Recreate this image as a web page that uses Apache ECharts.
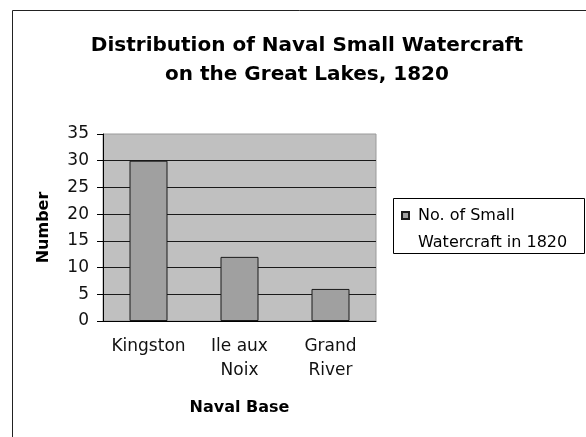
<!DOCTYPE html>
<html>
<head>
<meta charset="utf-8">
<script src="https://cdn.jsdelivr.net/npm/echarts@6/dist/echarts.min.js"></script>
<style>
  html, body { margin: 0; padding: 0; background: #fff; }
  #chart { width: 586px; height: 437px; }
</style>
</head>
<body>
<div id="chart"></div>
<script>
// data
const categories = ['Kingston', 'Ile aux\nNoix', 'Grand\nRiver']
const boats = [30, 12, 6]
const seriesName = 'No. of Small\nWatercraft in 1820'
const yTicks = { min: 0, max: 35, interval: 5 }

const labelFont = 'DejaVu Sans'

const myChart = echarts.init(document.getElementById('chart'))

const option = {
  animation: false,
  backgroundColor: '#fff',
  title: {
    text: 'Distribution of Naval Small Watercraft\non the Great Lakes, 1820',
    left: 302,
    top: 26,
    textAlign: 'center',
    textStyle: {
      fontFamily: labelFont,
      fontWeight: 'bold',
      fontSize: 20,
      lineHeight: 29,
      color: '#000'
    }
  },
  // outer frame + legend box
  graphic: [
    {
      type: 'rect',
      shape: { x: 12.5, y: 10.5, width: 620, height: 500 },
      style: { fill: 'none', stroke: '#222', lineWidth: 1 },
      silent: true
    },
    {
      type: 'rect',
      shape: { x: 393.5, y: 198.5, width: 191, height: 55 },
      style: { fill: 'none', stroke: '#000', lineWidth: 1 },
      silent: true
    }
  ],
  legend: {
    left: 401,
    top: 175,
    padding: 0,
    itemWidth: 7,
    itemHeight: 7,
    icon: 'rect',
    // leading blank line so the first text line sits beside the swatch
    formatter: name => '\n' + name,
    textStyle: {
      fontFamily: labelFont,
      fontSize: 16,
      lineHeight: 27,
      color: '#000',
      padding: [0, 0, 0, 4]
    },
    data: [seriesName]
  },
  grid: {
    left: 103,
    right: 210,
    top: 134,
    bottom: 116,
    show: true,
    backgroundColor: '#c0c0c0',
    borderColor: '#9a9a9a',
    borderWidth: 1
  },
  xAxis: {
    type: 'category',
    data: categories,
    name: 'Naval Base',
    nameLocation: 'middle',
    nameGap: 79,
    nameTextStyle: {
      fontFamily: labelFont,
      fontWeight: 'bold',
      fontSize: 16,
      color: '#000'
    },
    axisLine: { lineStyle: { color: '#000', width: 1 } },
    axisTick: { length: 5, lineStyle: { color: '#000' } },
    axisLabel: {
      margin: 14,
      fontFamily: labelFont,
      fontSize: 17,
      lineHeight: 24,
      color: '#111',
      interval: 0
    }
  },
  yAxis: {
    type: 'value',
    min: yTicks.min,
    max: yTicks.max,
    interval: yTicks.interval,
    name: 'Number',
    nameLocation: 'middle',
    nameRotate: 90,
    nameGap: 51,
    nameTextStyle: {
      fontFamily: labelFont,
      fontWeight: 'bold',
      fontSize: 16,
      color: '#000'
    },
    axisLine: { show: true, lineStyle: { color: '#000', width: 1 } },
    axisTick: { show: true, length: 6, lineStyle: { color: '#000' } },
    axisLabel: {
      margin: 14,
      fontFamily: labelFont,
      fontSize: 17,
      color: '#111'
    },
    splitLine: {
      show: true,
      showMaxLine: false,
      lineStyle: { color: '#1a1a1a', width: 1 }
    }
  },
  series: [{
    name: seriesName,
    type: 'bar',
    barWidth: 38,
    itemStyle: {
      color: '#a0a0a0',
      borderColor: '#1a1a1a',
      borderWidth: 1
    },
    data: boats
  }]
}

myChart.setOption(option)
</script>
</body>
</html>
